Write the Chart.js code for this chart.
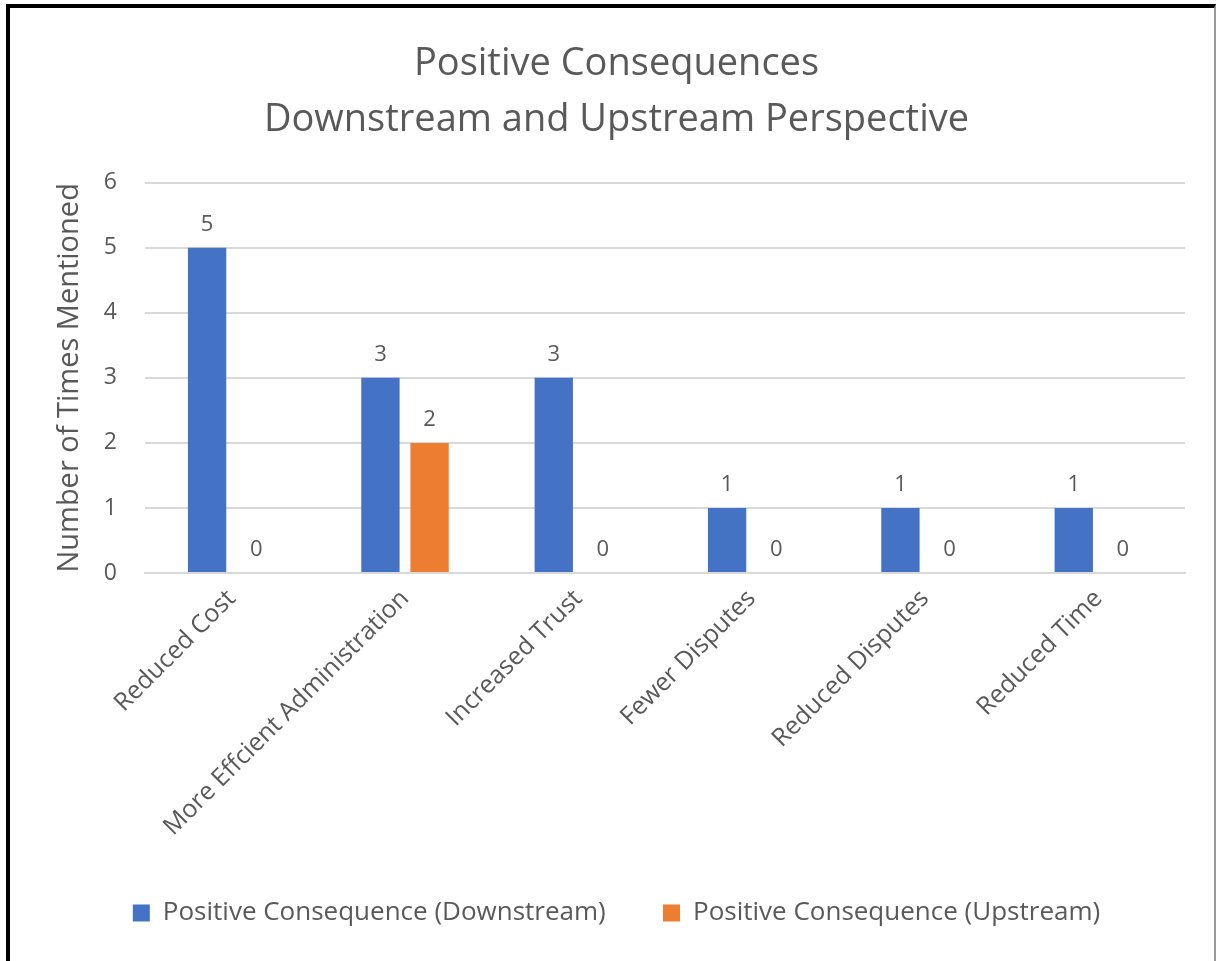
<!DOCTYPE html>
<html>
<head>
<meta charset="utf-8">
<script src="https://cdn.jsdelivr.net/npm/chart.js@4/dist/chart.umd.min.js"></script>
<style>
  html, body { margin: 0; padding: 0; background: #fff; }
  #frame {
    position: absolute; left: 6px; top: 4px; width: 1210px; height: 957px;
    border-left: 4px solid #000; border-top: 4px solid #000; border-right: 2px solid #999;
    box-sizing: border-box; background: #fff;
  }
  #wrap { position: absolute; left: 0; top: 0; width: 1204px; height: 953px; }
</style>
</head>
<body>
<div id="frame"><div id="wrap"><canvas id="chart"></canvas></div></div>
<script>
const categories = ["Reduced Cost", "More Effcient Administration", "Increased Trust", "Fewer Disputes", "Reduced Disputes", "Reduced Time"];
const downstream = [5, 3, 3, 1, 1, 1];
const upstream = [0, 2, 0, 0, 0, 0];
const seriesNames = ["Positive Consequence (Downstream)", "Positive Consequence (Upstream)"];
const titleLines = ["Positive Consequences", "Downstream and Upstream Perspective"];

const FONT = "'Open Sans', 'Noto Sans', sans-serif";
const GREY = "#595959";

// draws value labels above each bar
const valueLabels = {
    id: "valueLabels",
    afterDatasetsDraw(chart) {
        const ctx = chart.ctx;
        ctx.save();
        ctx.font = "22px " + FONT;
        ctx.fillStyle = GREY;
        ctx.textAlign = "center";
        ctx.textBaseline = "bottom";
        chart.data.datasets.forEach((ds, i) => {
            chart.getDatasetMeta(i).data.forEach((bar, j) => {
                ctx.fillText(ds.data[j], bar.x, bar.y - 12);
            });
        });
        ctx.restore();
    }
};

new Chart(document.getElementById("chart"), {
    type: "bar",
    data: {
        labels: categories,
        datasets: [
            { label: seriesNames[0], data: downstream, backgroundColor: "#4472C4" },
            { label: seriesNames[1], data: upstream, backgroundColor: "#ED7D31" }
        ]
    },
    options: {
        responsive: true,
        maintainAspectRatio: false,
        animation: false,
        categoryPercentage: 0.567,
        barPercentage: 0.78,
        layout: { padding: { left: 38, right: 29, top: 0, bottom: 25 } },
        plugins: {
            title: {
                display: true,
                text: titleLines,
                color: GREY,
                font: { family: FONT, size: 38, weight: "normal", lineHeight: 1.47 },
                padding: { top: 28, bottom: 35 }
            },
            legend: {
                position: "bottom",
                labels: {
                    color: GREY,
                    font: { family: FONT, size: 26 },
                    boxWidth: 17,
                    boxHeight: 17,
                    padding: 10,
                    // wider gap between the two legend entries
                    generateLabels(chart) {
                        const items = Chart.defaults.plugins.legend.labels.generateLabels(chart);
                        items.forEach((it, i) => {
                            if (i < items.length - 1) it.text = it.text + "       ";
                        });
                        return items;
                    }
                }
            },
            tooltip: { enabled: false }
        },
        scales: {
            x: {
                grid: { display: false },
                border: { color: "#D9D9D9", width: 2 },
                afterFit(axis) { axis.height = 317; },
                ticks: {
                    color: GREY,
                    font: { family: FONT, size: 25 },
                    minRotation: 45,
                    maxRotation: 45,
                    autoSkip: false
                }
            },
            y: {
                min: 0,
                max: 6,
                afterFit(axis) { axis.width = 97; },
                ticks: {
                    stepSize: 1,
                    color: GREY,
                    font: { family: FONT, size: 23 },
                    padding: 28
                },
                grid: { color: "#D9D9D9", lineWidth: 2, drawTicks: false },
                border: { display: false },
                title: {
                    display: true,
                    text: "Number of Times Mentioned",
                    color: GREY,
                    font: { family: FONT, size: 29 }
                }
            }
        }
    },
    plugins: [valueLabels]
});
</script>
</body>
</html>
